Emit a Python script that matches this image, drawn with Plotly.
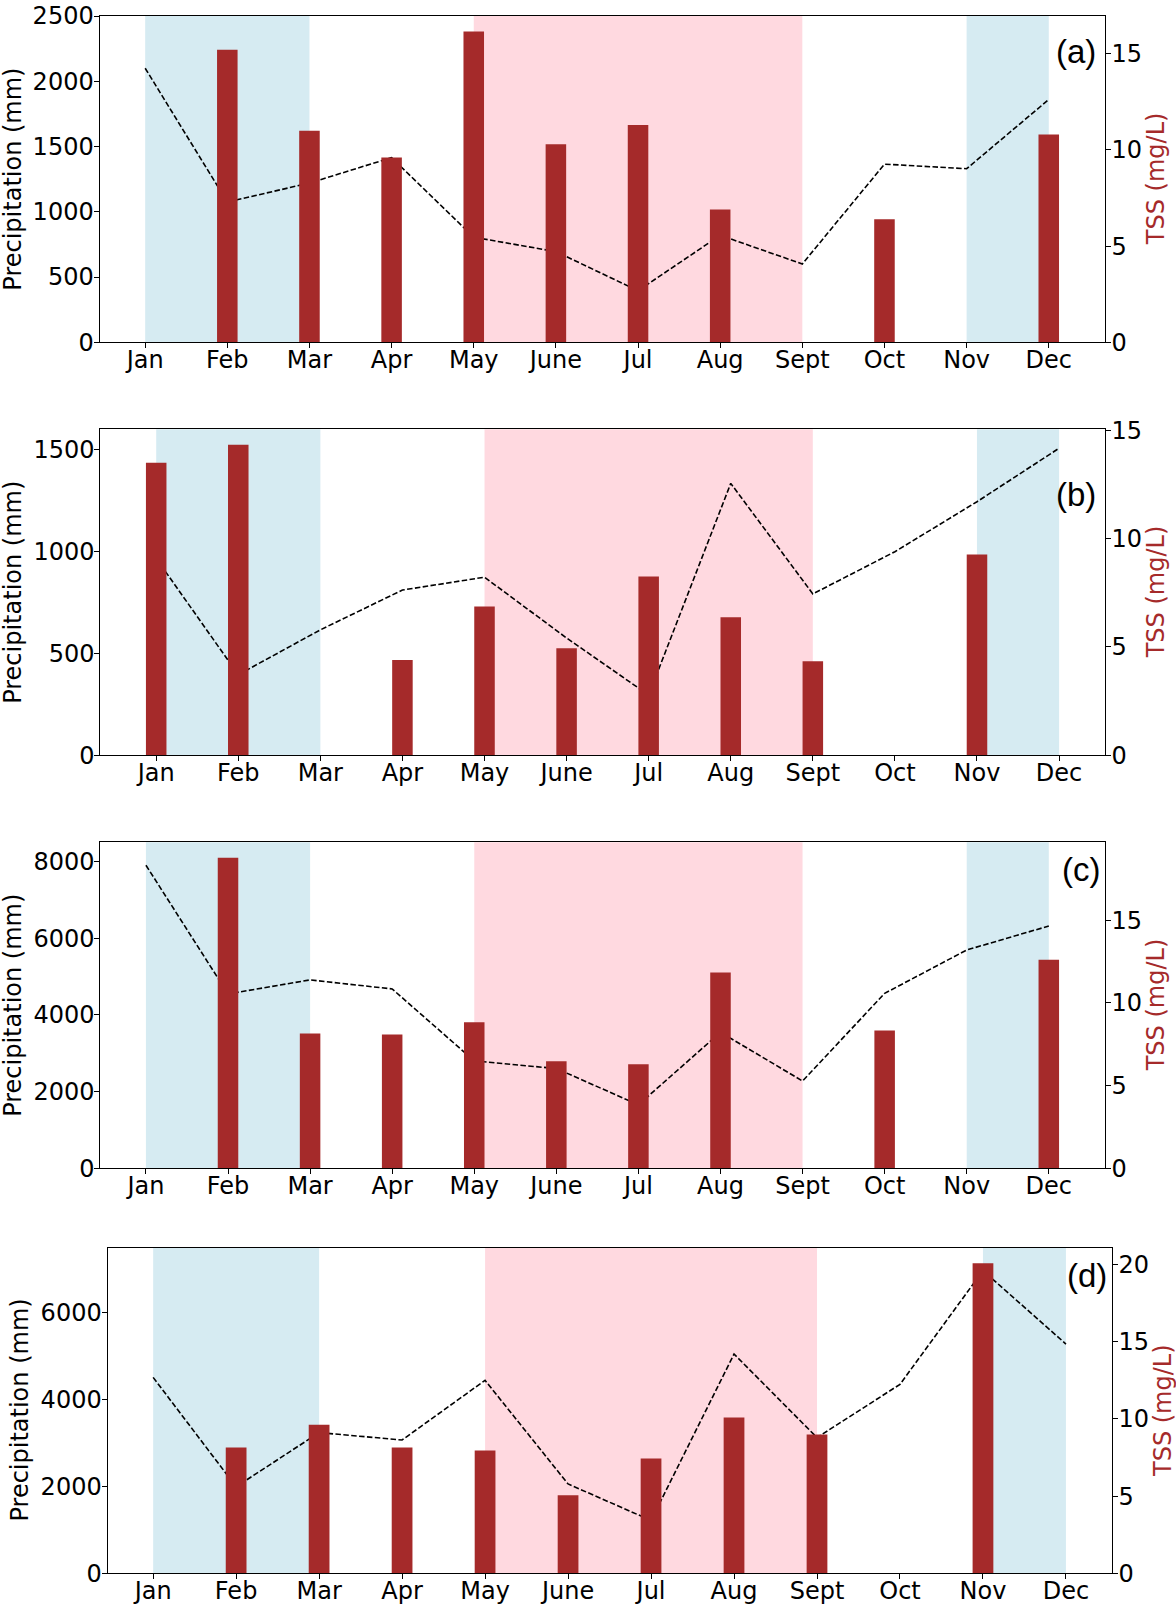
import plotly.graph_objects as go

months = ["Jan", "Feb", "Mar", "Apr", "May", "June", "Jul", "Aug", "Sept", "Oct", "Nov", "Dec"]

# precipitation (mm), dashed line, left axis
precip_a = [2100, 1075, 1220, 1415, 805, 695, 395, 820, 600, 1365, 1330, 1860]
precip_b = [965, 395, 615, 810, 873, 575, 295, 1333, 791, 998, 1243, 1505]
precip_c = [7900, 4545, 4910, 4675, 2800, 2600, 1655, 3545, 2275, 4560, 5690, 6315]
precip_d = [4505, 1990, 3235, 3065, 4437, 2054, 1215, 5042, 3120, 4345, 6960, 5272]

# TSS (mg/L), bars, right axis (None = no sample)
tss_a = [None, 15.2, 11.0, 9.6, 16.15, 10.3, 11.3, 6.9, None, 6.4, None, 10.8]
tss_b = [13.5, 14.33, None, 4.4, 6.87, 4.94, 8.25, 6.37, 4.34, None, 9.26, None]
tss_c = [None, 18.78, 8.16, 8.10, 8.83, 6.47, 6.29, 11.84, None, 8.34, None, 12.61]
tss_d = [None, 8.15, 9.63, 8.15, 7.96, 5.05, 7.44, 10.09, 8.99, None, 20.09, None]

# season spans (month index)
wet_spans = [(0, 2), (10, 11)]
dry_spans = [(4, 8)]

W, H = 1176, 1608
BROWN = "#a52a2a"


def fx(px):
    return px / W


def fy(py):
    return 1 - py / H


panels = [
    dict(tag="(a)", precip=precip_a, tss=tss_a, px=(99.5, 1104.7), py=(16, 342.3),
         xr=[-0.556, 11.681], yl=[0, 2500], ylt=[0, 500, 1000, 1500, 2000, 2500],
         yr=[0, 16.96], yrt=[0, 5, 10, 15], lab=(1098, 51), lt=13.5, rt=1156),
    dict(tag="(b)", precip=precip_b, tss=tss_b, px=(100.3, 1104.7), py=(429.3, 755.3),
         xr=[-0.681, 11.556], yl=[0, 1598], ylt=[0, 500, 1000, 1500],
         yr=[0, 15.04], yrt=[0, 5, 10, 15], lab=(1098, 495), lt=13.5, rt=1156),
    dict(tag="(c)", precip=precip_c, tss=tss_c, px=(100.3, 1104.7), py=(842.3, 1168.3),
         xr=[-0.556, 11.681], yl=[0, 8497], ylt=[0, 2000, 4000, 6000, 8000],
         yr=[0, 19.72], yrt=[0, 5, 10, 15], lab=(1102, 870), lt=13.5, rt=1156),
    dict(tag="(d)", precip=precip_d, tss=tss_d, px=(107.5, 1111.6), py=(1247.7, 1573.3),
         xr=[-0.55, 11.55], yl=[0, 7487], ylt=[0, 2000, 4000, 6000],
         yr=[0, 21.1], yrt=[0, 5, 10, 15, 20], lab=(1108.5, 1275), lt=19, rt=1162.5),
]

fig = go.Figure()
layout = {}
shapes = []
annotations = []
xs = list(range(12))

for i, p in enumerate(panels):
    n = i + 1
    xa = "x" if n == 1 else f"x{n}"
    yl = "y" if i == 0 else f"y{2 * i + 1}"
    yr = f"y{2 * i + 2}"

    fig.add_trace(go.Scatter(x=xs, y=p["precip"], xaxis=xa, yaxis=yl, mode="lines",
                             line=dict(color="black", width=1.6, dash="5.5px,2.4px"),
                             showlegend=False))
    fig.add_trace(go.Bar(x=xs, y=p["tss"], xaxis=xa, yaxis=yr, width=0.25,
                         marker=dict(color=BROWN, line=dict(width=0)), showlegend=False))

    xdom = [fx(p["px"][0]), fx(p["px"][1])]
    ydom = [fy(p["py"][1]), fy(p["py"][0])]
    common = dict(showgrid=False, zeroline=False, showline=True, linecolor="black", linewidth=1,
                  ticks="outside", ticklen=5, tickcolor="black", tickwidth=1, automargin=False,
                  tickfont=dict(family="DejaVu Sans", size=24, color="black"))
    layout["xaxis" if n == 1 else f"xaxis{n}"] = dict(
        domain=xdom, anchor=yl, range=p["xr"], tickvals=xs, ticktext=months, mirror=True,
        ticklabelstandoff=-9, **common)
    layout["yaxis" if i == 0 else f"yaxis{2 * i + 1}"] = dict(
        domain=ydom, anchor=xa, range=p["yl"], tickvals=p["ylt"], ticklabelstandoff=-5, **common)
    layout[f"yaxis{2 * i + 2}"] = dict(
        domain=ydom, anchor=xa, overlaying=yl, side="right", range=p["yr"], tickvals=p["yrt"],
        ticklabelstandoff=-4, **common)

    for x0, x1 in wet_spans:
        shapes.append(dict(type="rect", xref=xa, yref=f"{yl} domain", x0=x0, x1=x1, y0=0, y1=1,
                           fillcolor="lightblue", opacity=0.5, line=dict(width=0), layer="below"))
    for x0, x1 in dry_spans:
        shapes.append(dict(type="rect", xref=xa, yref=f"{yl} domain", x0=x0, x1=x1, y0=0, y1=1,
                           fillcolor="pink", opacity=0.6, line=dict(width=0), layer="below"))

    ymid = fy((p["py"][0] + p["py"][1]) / 2)
    annotations.append(dict(text="Precipitation (mm)", xref="paper", yref="paper",
                            x=fx(p["lt"]), y=ymid, textangle=-90, showarrow=False,
                            xanchor="center", yanchor="middle",
                            font=dict(family="DejaVu Sans", size=24, color="black")))
    annotations.append(dict(text="TSS (mg/L)", xref="paper", yref="paper",
                            x=fx(p["rt"]), y=ymid, textangle=-90, showarrow=False,
                            xanchor="center", yanchor="middle",
                            font=dict(family="DejaVu Sans", size=24, color=BROWN)))
    annotations.append(dict(text=p["tag"], xref="paper", yref="paper",
                            x=fx(p["lab"][0]), y=fy(p["lab"][1]), showarrow=False,
                            xanchor="right", yanchor="middle",
                            font=dict(family="Liberation Sans", size=33, color="black")))

fig.update_layout(width=W, height=H, margin=dict(l=0, r=0, t=0, b=0),
                  paper_bgcolor="white", plot_bgcolor="white",
                  shapes=shapes, annotations=annotations, **layout)

# drop the default 8px page margin so the figure fills the window
fig.write_html("out.html", config={"displayModeBar": False},
               post_script="document.body.style.margin = '0';")
